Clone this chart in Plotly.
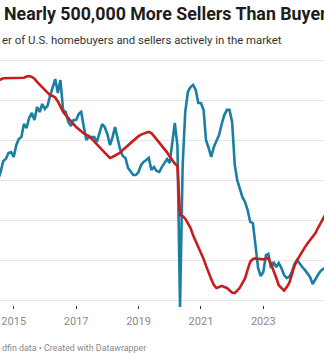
import pandas as pd
import plotly.graph_objects as go

# Monthly dates, July 2014 - January 2025
dates = pd.date_range("2014-07-01", periods=127, freq="MS")

# Estimated active sellers (thousands)
sellers = [
    2625, 2628, 2636, 2636, 2638, 2637,
    2636, 2636, 2635, 2636, 2639, 2647, 2650, 2644, 2633, 2613, 2596, 2579,
    2563, 2547, 2531, 2525, 2516, 2491, 2456, 2426, 2406, 2387, 2369, 2350,
    2331, 2317, 2302, 2291, 2282, 2274, 2258, 2239, 2219, 2203, 2188, 2171,
    2154, 2138, 2144, 2153, 2162, 2171, 2188, 2203, 2219, 2235, 2248, 2261,
    2274, 2284, 2291, 2296, 2301, 2293, 2274, 2254, 2236, 2219, 2194, 2173,
    2146, 2120, 2103, 2088, 1781, 1775, 1758, 1729, 1701, 1654, 1619, 1585,
    1549, 1507, 1465, 1419, 1381, 1344, 1325, 1331, 1338, 1331, 1325, 1311,
    1296, 1293, 1306, 1326, 1356, 1385, 1438, 1489, 1506, 1510, 1508, 1506,
    1504, 1508, 1513, 1475, 1438, 1389, 1342, 1324, 1309, 1329, 1356, 1409,
    1463, 1499, 1527, 1555, 1579, 1603, 1625, 1646, 1667, 1700, 1731, 1761,
    1788,
]

# Estimated active buyers (thousands)
buyers = [
    2000, 2050, 2119, 2131, 2169, 2175,
    2144, 2219, 2256, 2269, 2350, 2325, 2388, 2419, 2375, 2456, 2425, 2475,
    2444, 2463, 2525, 2575, 2631, 2544, 2625, 2438, 2425, 2363, 2338, 2375,
    2375, 2413, 2425, 2331, 2250, 2269, 2269, 2269, 2238, 2288, 2350, 2331,
    2288, 2219, 2263, 2331, 2269, 2188, 2150, 2138, 2075, 2050, 2031, 2031,
    2050, 2094, 2113, 2125, 2138, 2063, 2081, 2056, 2050, 2081, 2106, 2131,
    2106, 2231, 2356, 2213, 1206, 2094, 2425, 2550, 2581, 2594, 2563, 2481,
    2481, 2438, 2250, 2200, 2144, 2206, 2238, 2281, 2350, 2406, 2438, 2438,
    2363, 2094, 2000, 1950, 1894, 1863, 1813, 1738, 1731, 1594, 1450, 1400,
    1425, 1531, 1538, 1450, 1488, 1456, 1481, 1450, 1406, 1388, 1394, 1425,
    1475, 1500, 1475, 1456, 1438, 1419, 1394, 1350, 1381, 1406, 1431, 1444,
    1450,
]

grid_vals = [1250, 1500, 1750, 2000, 2250, 2500, 2750]
tick_dates = ["2015-01-01", "2017-01-01", "2019-01-01", "2021-01-01", "2023-01-01", "2025-01-01"]
tick_text = ["2015", "2017", "2019", "2021", "2023", "2025"]

title = "Nearly 500,000 More Sellers Than Buyers"
subtitle = "er of U.S. homebuyers and sellers actively in the market"
footer = "dfin data • Created with Datawrapper"

BLUE = "#1a7fa2"
RED = "#c91d1d"

fig = go.Figure()
fig.add_trace(go.Scatter(x=dates, y=buyers, mode="lines", name="Buyers",
                         line=dict(color=BLUE, width=2.6), hoverinfo="skip"))
fig.add_trace(go.Scatter(x=dates, y=sellers, mode="lines", name="Sellers",
                         line=dict(color=RED, width=2.6), hoverinfo="skip"))

fig.update_layout(
    width=324, height=358,
    margin=dict(l=0, r=0, t=55, b=49),
    paper_bgcolor="white", plot_bgcolor="white",
    showlegend=False,
    font=dict(family="Roboto", color="#333"),
    xaxis=dict(
        type="date",
        range=["2014-07-24 14:24", "2024-12-11 14:00"],
        tickvals=tick_dates, ticktext=tick_text,
        ticks="inside", ticklen=3, tickwidth=1, tickcolor="#333",
        showgrid=False, showline=False, zeroline=False,
        tickfont=dict(family="Roboto", size=11, color="#8a8a8a"),
        ticklabelstandoff=4,
    ),
    yaxis=dict(
        range=[1193.75, 2781.25],
        tickvals=grid_vals, showticklabels=False,
        showgrid=True, gridcolor="#e6e6e6", gridwidth=1,
        zeroline=False, showline=False, ticks="",
    ),
    annotations=[
        dict(text="<b>" + title + "</b>", xref="paper", yref="paper",
             x=0, y=1, xanchor="left", yanchor="middle", xshift=2,
             yshift=55 - 13, showarrow=False,
             font=dict(family="Roboto", size=17.8, color="#1d1d1d")),
        dict(text=subtitle, xref="paper", yref="paper",
             x=0, y=1, xanchor="left", yanchor="middle", xshift=0,
             yshift=55 - 40, showarrow=False,
             font=dict(family="Roboto", size=11.4, color="#333333")),
        dict(text=footer, xref="paper", yref="paper",
             x=0, y=0, xanchor="left", yanchor="middle", xshift=0,
             yshift=-(348 - 309), showarrow=False,
             font=dict(family="Roboto", size=8.9, color="#8a8a8a")),
    ],
)

fig.write_html("out.html")
